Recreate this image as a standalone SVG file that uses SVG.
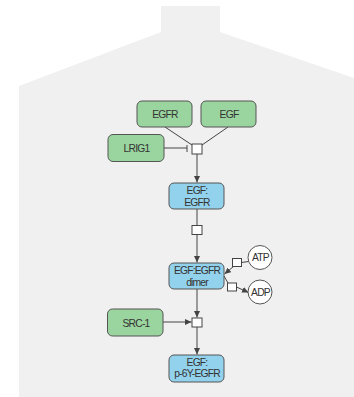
<svg xmlns="http://www.w3.org/2000/svg" width="354" height="397" viewBox="0 0 354 397">
<style>
.bg{fill:#f0f0f0;stroke:none}
.g rect{fill:#9ad49f;stroke:#555;stroke-width:1}
.b rect{fill:#93d2ec;stroke:#555;stroke-width:1}
.m circle{fill:#fff;stroke:#555;stroke-width:1}
.p rect{fill:#fff;stroke:#444;stroke-width:1}
text{font-family:"Liberation Sans",Arial,sans-serif;font-size:10.3px;fill:#333;text-anchor:middle;letter-spacing:-0.8px}
.c line{stroke:#444;stroke-width:1;fill:none}
</style>
<defs>
<marker id="arr" markerUnits="userSpaceOnUse" markerWidth="7" markerHeight="6" refX="6.5" refY="3" orient="auto">
<path d="M0,0 L6.5,3 L0,6 Z" fill="#444"/>
</marker>
</defs>
<polygon class="bg" points="161,6 220,6 220,32 354,78 354,397 19,397 19,86 161,32"/>
<g class="c" id="connectors">
<line x1="165" y1="127" x2="192" y2="145"/>
<line x1="228" y1="127" x2="202" y2="145"/>
<line x1="164" y1="148" x2="187" y2="148"/>
<line x1="187" y1="145" x2="187" y2="152"/>
<line x1="197" y1="154" x2="197" y2="182.5" marker-end="url(#arr)"/>
<line x1="197" y1="209" x2="197" y2="225.5"/>
<line x1="197" y1="234.5" x2="197" y2="262.5" marker-end="url(#arr)"/>
<line x1="248.5" y1="261.5" x2="241.5" y2="262.5"/>
<line x1="233.5" y1="266.5" x2="224.5" y2="274" marker-end="url(#arr)"/>
<line x1="224" y1="276" x2="228" y2="283"/>
<line x1="236.5" y1="287" x2="248.5" y2="292.5" marker-end="url(#arr)"/>
<line x1="197" y1="289" x2="197" y2="317.5" marker-end="url(#arr)"/>
<line x1="163" y1="322" x2="191.5" y2="322" marker-end="url(#arr)"/>
<line x1="197" y1="327" x2="197" y2="354.5" marker-end="url(#arr)"/>
</g>
<g class="p" id="process1"><rect x="192" y="144" width="10" height="10"/></g>
<g class="p" id="process2"><rect x="192" y="225.5" width="10" height="9"/></g>
<g class="p" id="process3"><rect x="232.5" y="258.5" width="9" height="8"/></g>
<g class="p" id="process4"><rect x="227.5" y="283" width="9" height="8"/></g>
<g class="p" id="process5"><rect x="192" y="318" width="10" height="9"/></g>
<g class="g" id="EGFR"><rect x="137" y="101" width="55" height="26" rx="5"/><text x="165" y="118">EGFR</text></g>
<g class="g" id="EGF"><rect x="201" y="101" width="55" height="26" rx="5"/><text x="229" y="118">EGF</text></g>
<g class="g" id="LRIG1"><rect x="108" y="134.5" width="56" height="27" rx="5"/><text x="136.5" y="151.5">LRIG1</text></g>
<g class="b" id="EGF_EGFR"><rect x="169" y="183" width="55" height="26" rx="5"/><text x="197" y="193.5">EGF:</text><text x="197" y="205.5">EGFR</text></g>
<g class="b" id="EGF_EGFR_dimer"><rect x="169" y="263" width="55" height="26" rx="5"/><text x="197" y="274">EGF:EGFR</text><text x="197" y="286">dimer</text></g>
<g class="m" id="ATP"><circle cx="260" cy="257.5" r="12"/><text x="260.5" y="261">ATP</text></g>
<g class="m" id="ADP"><circle cx="260" cy="292" r="12"/><text x="260.5" y="295.5">ADP</text></g>
<g class="g" id="SRC-1"><rect x="107.5" y="309" width="55.5" height="27" rx="5"/><text x="136" y="326.5">SRC-1</text></g>
<g class="b" id="EGF_p6Y_EGFR"><rect x="169" y="355" width="55" height="27" rx="5"/><text x="197" y="365.5">EGF:</text><text x="197" y="377">p-6Y-EGFR</text></g>
</svg>
